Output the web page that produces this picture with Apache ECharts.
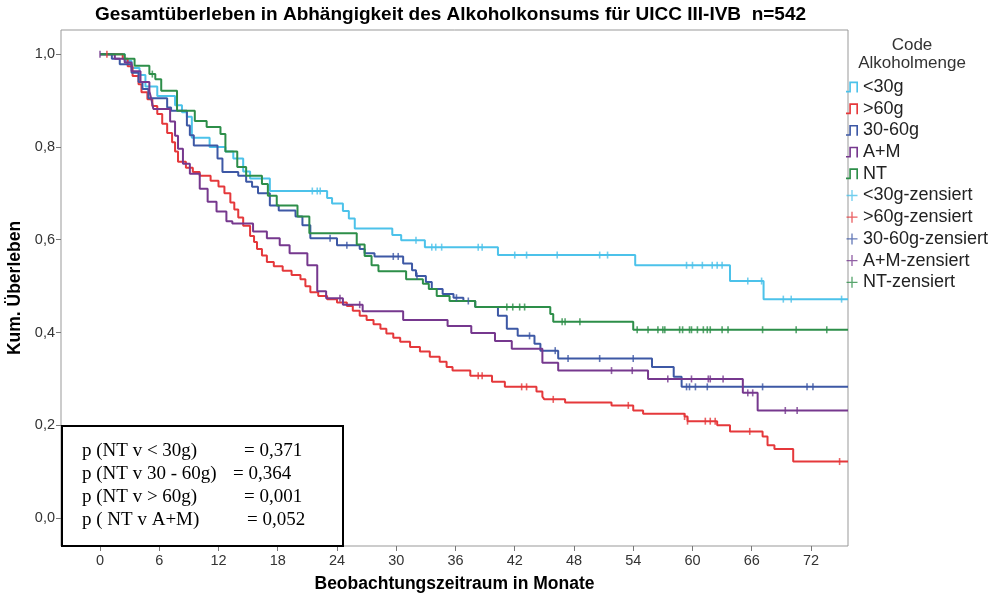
<!DOCTYPE html>
<html>
<head>
<meta charset="utf-8">
<script src="https://cdn.jsdelivr.net/npm/echarts@6/dist/echarts.min.js"></script>
<style>html,body{margin:0;padding:0;background:#fff;}#c{width:989px;height:593px;}</style>
</head>
<body>
<div id="c"></div>
<script>
// ---- data (months, cumulative survival) ----
const groupNames = ['<30g', '>60g', '30-60g', 'A+M', 'NT'];
const xTicks = [0, 6, 12, 18, 24, 30, 36, 42, 48, 54, 60, 66, 72];
const yTicks = [0, 0.2, 0.4, 0.6, 0.8, 1.0];

const lt30T = [0, 2.5, 3.2, 4.0, 4.6, 5.8, 7.6, 8.3, 8.8, 9.3, 11.1, 12.7, 13.5, 14.5, 15.2, 17.2, 23.0, 23.5, 24.6, 25.2, 25.8, 29.6, 30.5, 32.9, 40.3, 54.2, 63.8, 67.2, 75.75];
const lt30S = [1.0, 0.985, 0.97, 0.955, 0.93, 0.91, 0.89, 0.875, 0.865, 0.82, 0.80, 0.79, 0.775, 0.747, 0.732, 0.705, 0.69, 0.678, 0.662, 0.646, 0.624, 0.61, 0.599, 0.584, 0.567, 0.545, 0.511, 0.472, 0.472];
const lt30C = [21.5, 22.0, 22.3, 32.0, 33.6, 34.0, 34.6, 38.3, 38.7, 42.0, 43.2, 46.3, 50.6, 51.4, 59.4, 60.0, 61.0, 62.0, 62.5, 63.0, 65.6, 67.0, 69.2, 70.0, 75.1];

const gt60T = [0, 2.3, 2.8, 3.3, 3.9, 4.2, 4.8, 5.3, 5.8, 6.3, 6.8, 7.3, 7.6, 7.9, 8.7, 9.4, 10.1, 11.2, 12.0, 12.6, 13.2, 13.6, 14.0, 14.5, 15.2, 15.6, 15.9, 16.4, 16.9, 17.6, 18.5, 19.4, 20.3, 20.8, 21.3, 22.1, 23.0, 24.0, 25.0, 25.6, 26.3, 27.0, 27.7, 28.4, 29.0, 29.7, 30.4, 31.4, 32.4, 33.4, 34.4, 35.1, 35.7, 37.5, 39.7, 41.0, 44.2, 44.8, 45.0, 47.1, 51.8, 54.0, 55.0, 59.2, 59.5, 62.5, 63.8, 67.1, 67.6, 68.3, 70.2, 75.75];
const gt60S = [1.0, 0.99, 0.974, 0.953, 0.935, 0.918, 0.903, 0.888, 0.871, 0.85, 0.83, 0.81, 0.79, 0.768, 0.755, 0.746, 0.738, 0.727, 0.715, 0.70, 0.68, 0.665, 0.648, 0.63, 0.608, 0.595, 0.58, 0.566, 0.552, 0.543, 0.533, 0.524, 0.515, 0.50, 0.487, 0.479, 0.472, 0.465, 0.457, 0.447, 0.436, 0.427, 0.418, 0.408, 0.398, 0.389, 0.38, 0.369, 0.359, 0.348, 0.337, 0.326, 0.318, 0.307, 0.294, 0.283, 0.273, 0.262, 0.256, 0.249, 0.243, 0.232, 0.225, 0.219, 0.209, 0.20, 0.187, 0.176, 0.157, 0.149, 0.122, 0.122];
const gt60C = [0.7, 38.3, 38.7, 42.7, 43.2, 45.9, 53.5, 59.2, 59.5, 61.3, 61.8, 62.3, 65.8, 74.9];

const m3060T = [0, 1.2, 2.0, 3.2, 3.9, 4.3, 4.9, 6.8, 7.2, 8.8, 9.1, 9.5, 11.9, 12.4, 14.0, 14.8, 15.4, 16.0, 17.2, 18.1, 19.8, 20.5, 21.3, 24.0, 26.3, 26.8, 27.8, 30.7, 31.6, 32.0, 33.0, 33.6, 34.7, 35.8, 36.8, 38.0, 40.3, 41.2, 42.3, 44.0, 44.6, 46.4, 55.9, 58.1, 58.9, 75.75];
const m3060S = [1.0, 0.99, 0.978, 0.96, 0.94, 0.925, 0.905, 0.885, 0.878, 0.846, 0.825, 0.803, 0.775, 0.746, 0.738, 0.725, 0.714, 0.70, 0.674, 0.663, 0.65, 0.631, 0.603, 0.588, 0.58, 0.571, 0.564, 0.549, 0.534, 0.522, 0.509, 0.494, 0.483, 0.475, 0.468, 0.455, 0.436, 0.408, 0.393, 0.376, 0.361, 0.344, 0.326, 0.305, 0.283, 0.283];
const m3060C = [23.3, 25.0, 29.7, 30.2, 32.1, 36.1, 37.3, 43.5, 46.1, 47.4, 50.6, 54.0, 59.4, 59.7, 60.3, 61.5, 67.1, 71.6, 72.2];

const amT = [0, 1.5, 2.5, 3.2, 4.1, 5.0, 5.2, 5.4, 7.1, 7.6, 7.9, 8.4, 9.1, 10.1, 10.9, 11.8, 12.8, 13.4, 15.5, 16.9, 18.2, 19.2, 21.0, 22.0, 22.9, 24.6, 26.6, 30.7, 35.2, 37.6, 40.0, 41.7, 44.8, 46.4, 55.5, 65.1, 66.6, 75.75];
const amS = [1.0, 0.99, 0.982, 0.963, 0.94, 0.92, 0.903, 0.882, 0.855, 0.824, 0.796, 0.764, 0.742, 0.71, 0.682, 0.661, 0.64, 0.635, 0.618, 0.603, 0.588, 0.571, 0.545, 0.489, 0.474, 0.46, 0.446, 0.427, 0.414, 0.399, 0.382, 0.365, 0.335, 0.318, 0.30, 0.27, 0.232, 0.232];
const amC = [0, 24.3, 26.3, 51.8, 53.9, 57.5, 59.9, 61.6, 61.8, 63.1, 65.6, 66.1, 69.4, 70.6];

const ntT = [0, 2.5, 3.5, 5.0, 5.6, 6.2, 7.8, 9.6, 10.8, 12.2, 12.7, 13.9, 14.8, 16.4, 17.0, 17.9, 20.0, 21.2, 26.0, 26.8, 27.5, 28.2, 31.0, 32.7, 33.3, 34.1, 35.4, 38.0, 45.6, 45.9, 54.0, 75.75];
const ntS = [1.0, 0.99, 0.975, 0.957, 0.946, 0.921, 0.878, 0.856, 0.843, 0.828, 0.79, 0.757, 0.738, 0.72, 0.695, 0.674, 0.65, 0.614, 0.59, 0.565, 0.545, 0.532, 0.515, 0.505, 0.494, 0.479, 0.468, 0.455, 0.44, 0.423, 0.406, 0.406];
const ntC = [5.3, 41.2, 41.8, 42.5, 43.0, 46.8, 47.1, 48.6, 54.4, 55.5, 56.5, 57.0, 57.2, 58.7, 59.0, 59.7, 59.9, 60.5, 61.1, 61.5, 61.8, 63.0, 63.6, 67.1, 70.5, 73.6];

const pLeft = ['p (NT v < 30g)', 'p (NT v 30 - 60g)', 'p (NT v > 60g)', 'p ( NT v A+M)'];
const pRight = ['= 0,371', '= 0,364', '= 0,001', '= 0,052'];

// ---- build ----
const FONT = '"Liberation Sans", Arial, sans-serif';
const colors = ['#4cc2ea', '#e5383b', '#3d58a5', '#76388e', '#2d8e49'];
const curves = [[lt30T, lt30S, lt30C], [gt60T, gt60S, gt60C], [m3060T, m3060S, m3060C], [amT, amS, amC], [ntT, ntS, ntC]];

function stepVal(T, S, t) {
  let v = S[0];
  for (let i = 0; i < T.length; i++) { if (T[i] <= t) v = S[i]; }
  return v;
}

const stepIcon = 'path://M0,8.5H3V0H11V10H9.5V1.5H4.5V10H0Z';
const plusIcon = 'path://M4.4,0H5.6V4.4H10V5.6H5.6V10H4.4V5.6H0V4.4H4.4Z';

const series = [];
const legendData = [];
curves.forEach((c, i) => {
  series.push({
    name: groupNames[i], type: 'line', step: 'end', symbol: 'none',
    color: colors[i], lineStyle: { width: 2, color: colors[i] },
    data: c[0].map((t, k) => [t, c[1][k]]), z: 3
  });
  legendData.push({ name: groupNames[i], icon: stepIcon });
});
curves.forEach((c, i) => {
  const nm = groupNames[i] + '-zensiert';
  series.push({
    name: nm, type: 'scatter', symbol: 'rect', symbolSize: [1.6, 7],
    color: colors[i], itemStyle: { color: colors[i] },
    data: c[2].map(t => [t, stepVal(c[0], c[1], t)]), z: 4
  });
  legendData.push({ name: nm, icon: plusIcon });
});

const graphics = [
  { type: 'text', style: { x: 912, y: 45, text: 'Code', fill: '#333', font: '17px ' + FONT, textAlign: 'center', textVerticalAlign: 'middle' } },
  { type: 'text', style: { x: 912, y: 63, text: 'Alkoholmenge', fill: '#333', font: '17px ' + FONT, textAlign: 'center', textVerticalAlign: 'middle' } },
  { type: 'rect', shape: { x: 62, y: 426, width: 281, height: 120 }, style: { fill: '#fff', stroke: '#000', lineWidth: 2 }, z: 100 }
];
const rightX = [244, 233, 244, 247];
pLeft.forEach((s, i) => {
  graphics.push({ type: 'text', z: 101, style: { x: 82, y: 451 + i * 23, text: s, fill: '#000', font: '19px "Liberation Serif", "Times New Roman", serif', textVerticalAlign: 'middle' } });
  graphics.push({ type: 'text', z: 101, style: { x: rightX[i], y: 451 + i * 23, text: pRight[i], fill: '#000', font: '19px "Liberation Serif", "Times New Roman", serif', textVerticalAlign: 'middle' } });
});

const chart = echarts.init(document.getElementById('c'), null, { renderer: 'canvas' });
chart.setOption({
  animation: false,
  backgroundColor: '#fff',
  title: {
    text: 'Gesamtüberleben in Abhängigkeit des Alkoholkonsums für UICC III-IVB  n=542',
    left: 95, top: 5, padding: 0,
    textStyle: { fontSize: 19, fontWeight: 'bold', color: '#000', fontFamily: FONT }
  },
  grid: { left: 61, right: 141, top: 30, bottom: 47, show: true, borderColor: '#999', borderWidth: 1, backgroundColor: '#fff',
    containLabel: false, outerBoundsMode: 'none' },
  legend: {
    orient: 'vertical', left: 846, top: 78, padding: 0, itemWidth: 12, itemHeight: 11, itemGap: 3.7,
    data: legendData, selectedMode: false,
    textStyle: { fontSize: 18, color: '#222', fontFamily: FONT }
  },
  xAxis: {
    type: 'value', min: -3.95, max: 75.75,
    name: 'Beobachtungszeitraum in Monate', nameLocation: 'middle', nameGap: 29,
    nameTextStyle: { fontSize: 17.5, fontWeight: 'bold', color: '#000', fontFamily: FONT },
    axisLine: { show: false, onZero: false },
    axisTick: { show: true, inside: false, length: 5, lineStyle: { color: '#777' }, customValues: xTicks },
    axisLabel: { customValues: xTicks, fontSize: 14.5, color: '#333', margin: 7, fontFamily: FONT },
    splitLine: { show: false }
  },
  yAxis: {
    type: 'value', min: -0.06, max: 1.052,
    name: 'Kum. Überleben', nameLocation: 'middle', nameGap: 34,
    nameTextStyle: { fontSize: 17.5, fontWeight: 'bold', color: '#000', fontFamily: FONT },
    axisLine: { show: false, onZero: false },
    axisTick: { show: true, inside: false, length: 5, lineStyle: { color: '#777' }, customValues: yTicks },
    axisLabel: { customValues: yTicks, fontSize: 14.5, color: '#333', margin: 6, fontFamily: FONT,
      formatter: v => v.toFixed(1).replace('.', ',') },
    splitLine: { show: false }
  },
  series: series,
  graphic: graphics
});
</script>
</body>
</html>
